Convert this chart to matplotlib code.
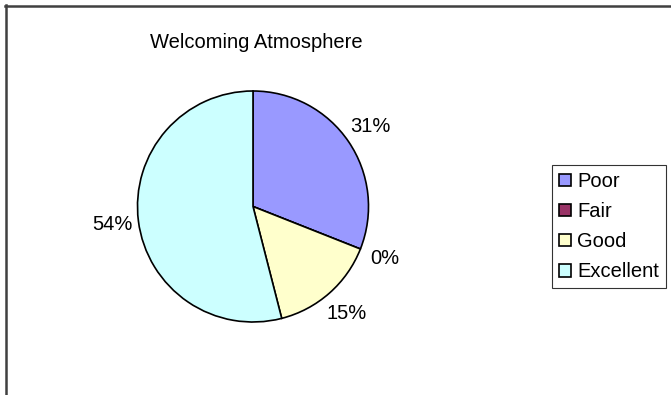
import matplotlib.pyplot as plt
from matplotlib.lines import Line2D
from matplotlib.patches import Patch

plt.rcParams["font.family"] = ["Liberation Sans", "DejaVu Sans"]

# ratings share
categories = ["Poor", "Fair", "Good", "Excellent"]
shares = [31, 0, 15, 54]
colors = ["#9999FF", "#993366", "#FFFFCC", "#CCFFFF"]
title = "Welcoming Atmosphere"

W, H = 671, 395
fig = plt.figure(figsize=(W / 100, H / 100), dpi=100)

# pie axes sized to the circle itself (centre 253,206 px, radius 115.5 px)
cx, cy, r = 253, 206.5, 115.5
ax = fig.add_axes([(cx - r) / W, (H - cy - r) / H, 2 * r / W, 2 * r / H])
wedges, _, pct_texts = ax.pie(
    shares,
    colors=colors,
    startangle=90,
    counterclock=False,
    autopct="%1.0f%%",
    pctdistance=1.23,
    radius=1,
    wedgeprops={"edgecolor": "black", "linewidth": 1.2},
    textprops={"fontsize": 14.5, "color": "black"},
)
ax.set_xlim(-1, 1)
ax.set_ylim(-1, 1)
ax.set_aspect("equal")
ax.axis("off")
for t in pct_texts:
    t.set_clip_on(False)

fig.text(256 / W, 1 - 43 / H, title, ha="center", va="center", fontsize=14.5)

handles = [Patch(facecolor=c, edgecolor="black", linewidth=1.2) for c in colors]
leg = fig.legend(
    handles,
    categories,
    loc="upper left",
    bbox_to_anchor=(552 / W, 1 - 165 / H),
    borderaxespad=0,
    fontsize=14.5,
    handlelength=0.6,
    handleheight=0.6,
    handletextpad=0.3,
    labelspacing=0.55,
    borderpad=0.35,
    fancybox=False,
    frameon=True,
)
leg.get_frame().set_edgecolor("black")
leg.get_frame().set_linewidth(0.8)

# chart area border (top and left edges visible)
fig.add_artist(Line2D([5 / W, 1], [1 - 5.5 / H, 1 - 5.5 / H], color="#404040", linewidth=1.8))
fig.add_artist(Line2D([5.5 / W, 5.5 / W], [0, 1 - 5 / H], color="#404040", linewidth=1.8))

fig.savefig("out.png", dpi=100)
